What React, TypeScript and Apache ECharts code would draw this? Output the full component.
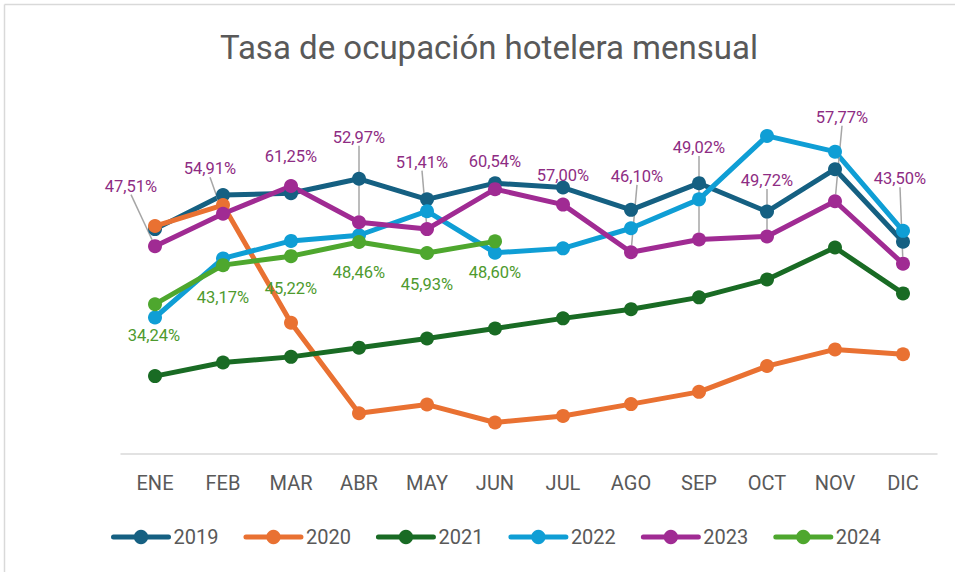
import React, { useEffect, useRef } from "react";
import * as echarts from "echarts";

const months = ["ENE", "FEB", "MAR", "ABR", "MAY", "JUN", "JUL", "AGO", "SEP", "OCT", "NOV", "DIC"];
const years = ["2019", "2020", "2021", "2022", "2023", "2024"];
const colors = ["#156082", "#E97132", "#196B24", "#0F9ED5", "#A02B93", "#4EA72E"];

const v2019 = [51.4, 59.2, 59.6, 62.9, 58.2, 61.9, 60.9, 55.8, 61.9, 55.4, 65.1, 48.5];
const v2020 = [52.1, 56.9, 30.0, 9.3, 11.3, 7.2, 8.7, 11.4, 14.2, 20.1, 23.9, 22.8];
const v2021 = [17.8, 20.9, 22.2, 24.3, 26.4, 28.7, 31.0, 33.1, 35.8, 39.9, 47.2, 36.7];
const v2022 = [31.2, 44.7, 48.7, 50.0, 55.5, 46.0, 47.0, 51.6, 58.2, 72.7, 69.1, 51.0];
const v2023 = [47.51, 54.91, 61.25, 52.97, 51.41, 60.54, 57.0, 46.1, 49.02, 49.72, 57.77, 43.5];
const v2024 = [34.24, 43.17, 45.22, 48.46, 45.93, 48.6];

// label placement (offsets from the point, in px) for 2023 / 2024 labels
const dx2023 = [-24, -13, 0, 0, -5, 0, 0, 6, 0, 0, 7, -3];
const dy2023 = [-60, -45, -30, -85, -67, -28, -29, -76, -92, -56, -84, -85];
const leader2023 = [true, true, false, true, true, false, false, true, true, true, true, true];
const dx2024 = [-1, 0, 0, 0, 0, 0];
const dy2024 = [31, 32, 32, 31, 31, 31];

const allValues = [v2019, v2020, v2021, v2022, v2023, v2024];

const fmt = (v: number) => v.toFixed(2).replace(".", ",") + "%";

export default function App() {
  const ref = useRef<HTMLDivElement>(null);
  useEffect(() => {
    if (!ref.current) return;
    const chart = echarts.init(ref.current, undefined, { renderer: "svg" });
    const series: any[] = years.map((y, i) => {
      const vals = allValues[i];
      const s: any = {
        name: y,
        type: "line",
        data: vals.map((v, j) => {
          if (i === 4) return { value: v, labelLine: { show: leader2023[j] } };
          return { value: v };
        }),
        symbol: "circle",
        symbolSize: 14,
        lineStyle: { width: 5, color: colors[i], cap: "round", join: "round" },
        itemStyle: { color: colors[i] },
        emphasis: { disabled: true },
      };
      if (i === 4) {
        s.label = {
          show: true,
          position: "inside",
          formatter: (p: any) => fmt(p.value),
          color: "#8E2C83",
          fontSize: 16.5,
          fontFamily: "Roboto",
        };
        s.labelLine = { show: true, lineStyle: { color: "#A6A6A6", width: 1.5 } };
        s.labelLayout = (p: any) => ({ dx: dx2023[p.dataIndex], dy: dy2023[p.dataIndex] });
      }
      if (i === 5) {
        s.label = {
          show: true,
          position: "inside",
          formatter: (p: any) => fmt(p.value),
          color: "#4E9A2E",
          fontSize: 16.5,
          fontFamily: "Roboto",
        };
        s.labelLayout = (p: any) => ({ dx: dx2024[p.dataIndex], dy: dy2024[p.dataIndex] });
      }
      return s;
    });
    chart.setOption({
      animation: false,
      color: colors,
      title: {
        text: "Tasa de ocupación hotelera mensual",
        left: 484,
        textAlign: "center",
        top: 26,
        textStyle: { fontFamily: "Roboto", fontWeight: "normal", fontSize: 33, color: "#595959" },
      },
      legend: {
        data: years,
        left: 106,
        top: 522,
        itemWidth: 55,
        itemHeight: 18,
        itemGap: 25,
        lineStyle: { width: 5, cap: "round" },
        textStyle: { fontFamily: "Roboto", fontSize: 20, color: "#595959" },
      },
      grid: { left: 121, right: 18, top: 104, bottom: 118 },
      xAxis: {
        type: "category",
        data: months,
        boundaryGap: true,
        axisLine: { lineStyle: { color: "#D9D9D9", width: 1.5 } },
        axisTick: { show: false },
        axisLabel: { fontFamily: "Roboto", fontSize: 20, color: "#595959", margin: 19 },
      },
      yAxis: {
        type: "value",
        min: 0,
        max: 80,
        show: false,
        splitLine: { show: false },
      },
      graphic: [
        { type: "line", shape: { x1: 4.5, y1: 4.5, x2: 955, y2: 4.5 }, style: { stroke: "#D9D9D9", lineWidth: 1.5 } },
        { type: "line", shape: { x1: 4.5, y1: 4.5, x2: 4.5, y2: 572 }, style: { stroke: "#D9D9D9", lineWidth: 1.5 } },
      ],
      series,
    });
    return () => chart.dispose();
  }, []);
  return (
    <div
      ref={ref}
      style={{ position: "fixed", left: 0, top: 0, width: 955, height: 572, background: "#fff" }}
    />
  );
}
